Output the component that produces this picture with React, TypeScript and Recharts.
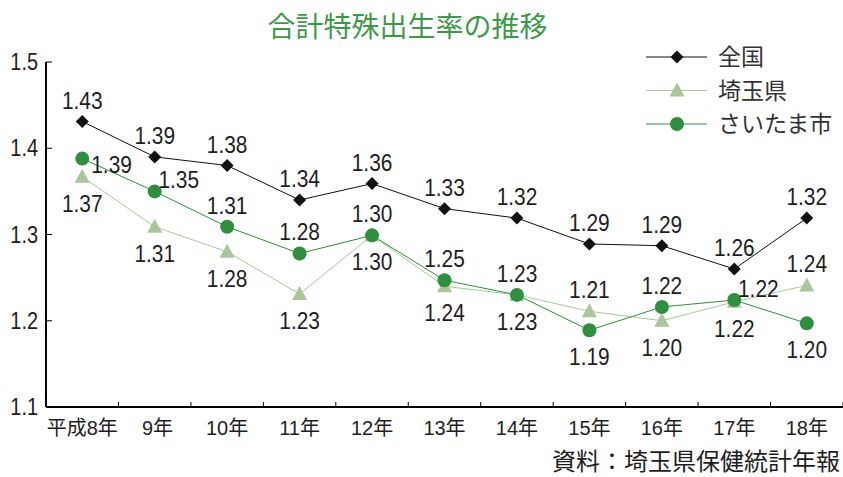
import React from 'react';
import { LineChart, Line, XAxis, YAxis, Legend, LabelList } from 'recharts';

const categories = ['平成8年', ' 9年', '10年', '11年', '12年', '13年', '14年', '15年', '16年', '17年', '18年'];
const national = [1.431, 1.39, 1.38, 1.34, 1.359, 1.33, 1.319, 1.289, 1.287, 1.26, 1.319];
const nationalLabels = ['1.43', '1.39', '1.38', '1.34', '1.36', '1.33', '1.32', '1.29', '1.29', '1.26', '1.32'];
const prefecture = [1.367, 1.309, 1.28, 1.231, 1.299, 1.24, 1.23, 1.211, 1.2, 1.222, 1.241];
const prefectureLabels = ['1.37', '1.31', '1.28', '1.23', '1.30', '1.24', '1.23', '1.21', '1.20', '1.22', '1.24'];
const city = [1.388, 1.35, 1.309, 1.278, 1.299, 1.247, 1.23, 1.189, 1.216, 1.224, 1.197];
const cityLabels = ['1.39', '1.35', '1.31', '1.28', '1.30', '1.25', '1.23', '1.19', '1.22', '1.22', '1.20'];
const yTicks = [1.1, 1.2, 1.3, 1.4, 1.5];

const nationalPlacement = ['above', 'above', 'above', 'above', 'above', 'above', 'above', 'above', 'above', 'above', 'above'];
const prefecturePlacement = ['below', 'below', 'below', 'below', 'below', 'below', 'below', 'above', 'below', 'below', 'above'];
const cityPlacement = ['right', 'upperRight', 'above', 'above', 'above', 'above', 'above', 'below', 'above', 'upperRight', 'below'];

const data = categories.map((c, i) => ({
  category: c,
  national: national[i],
  nationalLabel: nationalLabels[i],
  prefecture: prefecture[i],
  prefectureLabel: prefectureLabels[i],
  city: city[i],
  cityLabel: cityLabels[i],
}));

const W = 843;
const H = 477;
const Y_AXIS_W = 46;
const BAND = (W - Y_AXIS_W) / categories.length;

const NUM_FONT = "'Liberation Sans', Arimo, Arial, 'Noto Sans CJK JP', sans-serif";
const CJK_FONT = "'Noto Sans CJK JP', sans-serif";

const C_NATIONAL = '#111111';
const C_PREF = '#a9c79b';
const C_CITY = '#2f8f3f';
const TEXT_C = '#1e1e1e';

function makeLabel(placements: string[]) {
  return (props: any) => {
    const { x, y, value, index } = props;
    const p = placements[index];
    let dx = 0;
    let dy = -13;
    let anchor: any = 'middle';
    if (p === 'below') dy = 35;
    else if (p === 'right') {
      dx = 9;
      dy = 14;
      anchor = 'start';
    } else if (p === 'upperRight') {
      dx = 24;
      dy = -3;
    }
    return (
      <g transform={`translate(${x + dx},${y + dy}) scale(0.87,1)`}>
        <text x={0} y={0} textAnchor={anchor} fontSize={24} fontFamily={NUM_FONT} fill={TEXT_C}>
          {value}
        </text>
      </g>
    );
  };
}

const DiamondDot = (props: any) => {
  const { cx, cy, index } = props;
  const s = 6.5;
  return <path key={`n-${index}`} d={`M${cx},${cy - s}L${cx + s},${cy}L${cx},${cy + s}L${cx - s},${cy}Z`} fill={C_NATIONAL} />;
};

const TriangleDot = (props: any) => {
  const { cx, cy, index } = props;
  return <path key={`p-${index}`} d={`M${cx},${cy - 8}L${cx + 7.5},${cy + 6}L${cx - 7.5},${cy + 6}Z`} fill={C_PREF} />;
};

const CircleDot = (props: any) => {
  const { cx, cy, index } = props;
  return <circle key={`c-${index}`} cx={cx} cy={cy} r={7} fill={C_CITY} />;
};

const XTick = (props: any) => {
  const { x, y, payload } = props;
  return (
    <g>
      <line x1={x + BAND / 2} x2={x + BAND / 2} y1={y} y2={y - 5} stroke="#000" strokeWidth={1} />
      <text x={x} y={y + 28} textAnchor="middle" fontSize={20} fontFamily={NUM_FONT} fill={TEXT_C} style={{ whiteSpace: 'pre' }}>
        {payload.value}
      </text>
    </g>
  );
};

const YTick = (props: any) => {
  const { x, y, payload } = props;
  return (
    <g>
      <line x1={x} x2={x + 6} y1={y} y2={y} stroke="#000" strokeWidth={1} />
      <g transform={`translate(${x - 8},${y + 8}) scale(0.83,1)`}>
        <text x={0} y={0} textAnchor="end" fontSize={24} fontFamily={NUM_FONT} fill={TEXT_C}>
          {payload.value.toFixed(1)}
        </text>
      </g>
    </g>
  );
};

const legendItems = [
  { name: '全国', color: C_NATIONAL, shape: 'diamond' },
  { name: '埼玉県', color: C_PREF, shape: 'triangle' },
  { name: 'さいたま市', color: C_CITY, shape: 'circle' },
];

const renderLegend = () => (
  <svg width={200} height={110} style={{ overflow: 'visible', display: 'block' }}>
    {legendItems.map((it, i) => {
      const cy = 17 + i * 33.5;
      const cx = 37;
      let marker: any;
      if (it.shape === 'diamond') marker = <path d={`M${cx},${cy - 6.5}L${cx + 6.5},${cy}L${cx},${cy + 6.5}L${cx - 6.5},${cy}Z`} fill={it.color} />;
      else if (it.shape === 'triangle') marker = <path d={`M${cx},${cy - 8}L${cx + 7.5},${cy + 6}L${cx - 7.5},${cy + 6}Z`} fill={it.color} />;
      else marker = <circle cx={cx} cy={cy} r={7} fill={it.color} />;
      return (
        <g key={it.name}>
          <line x1={6} x2={67} y1={cy} y2={cy} stroke={it.color} strokeWidth={1} />
          {marker}
          <text x={78} y={cy + 8} fontSize={23} fontFamily={CJK_FONT} fill="#333">
            {it.name}
          </text>
        </g>
      );
    })}
  </svg>
);

export default function App() {
  return (
    <div style={{ position: 'absolute', left: 0, top: 0, width: W, height: H, background: '#fff' }}>
      <div
        style={{
          position: 'absolute',
          left: 0,
          width: W - 28,
          top: 7,
          textAlign: 'center',
          fontFamily: CJK_FONT,
          fontSize: 28,
          color: '#3b9b47',
          lineHeight: '36px',
        }}
      >
        合計特殊出生率の推移
      </div>
      <LineChart width={W} height={H} data={data} margin={{ top: 62, right: 0, bottom: 30, left: 0 }}>
        <XAxis
          dataKey="category"
          scale="band"
          height={40}
          axisLine={{ stroke: '#000', strokeWidth: 2 }}
          tickLine={false}
          tickSize={0}
          tickMargin={0}
          interval={0}
          tick={<XTick />}
        />
        <YAxis
          domain={[1.1, 1.5]}
          ticks={yTicks}
          width={Y_AXIS_W}
          axisLine={{ stroke: '#000', strokeWidth: 2 }}
          tickLine={false}
          tickSize={0}
          tickMargin={0}
          interval={0}
          tick={<YTick />}
        />
        <Legend
          layout="vertical"
          align="center"
          verticalAlign="middle"
          content={renderLegend}
          wrapperStyle={{ position: 'absolute', left: 640, top: 40, width: 200, height: 110 }}
        />
        <Line
          type="linear"
          dataKey="national"
          name="全国"
          stroke={C_NATIONAL}
          strokeWidth={1}
          dot={<DiamondDot />}
          activeDot={false}
          isAnimationActive={false}
        >
          <LabelList dataKey="nationalLabel" content={makeLabel(nationalPlacement)} />
        </Line>
        <Line
          type="linear"
          dataKey="prefecture"
          name="埼玉県"
          stroke={C_PREF}
          strokeWidth={1}
          dot={<TriangleDot />}
          activeDot={false}
          isAnimationActive={false}
        >
          <LabelList dataKey="prefectureLabel" content={makeLabel(prefecturePlacement)} />
        </Line>
        <Line
          type="linear"
          dataKey="city"
          name="さいたま市"
          stroke={C_CITY}
          strokeWidth={1}
          dot={<CircleDot />}
          activeDot={false}
          isAnimationActive={false}
        >
          <LabelList dataKey="cityLabel" content={makeLabel(cityPlacement)} />
        </Line>
      </LineChart>
      <div
        style={{
          position: 'absolute',
          right: 3,
          top: 448,
          fontFamily: CJK_FONT,
          fontSize: 24,
          color: TEXT_C,
          lineHeight: '24px',
          whiteSpace: 'nowrap',
        }}
      >
        資料：埼玉県保健統計年報
      </div>
    </div>
  );
}
